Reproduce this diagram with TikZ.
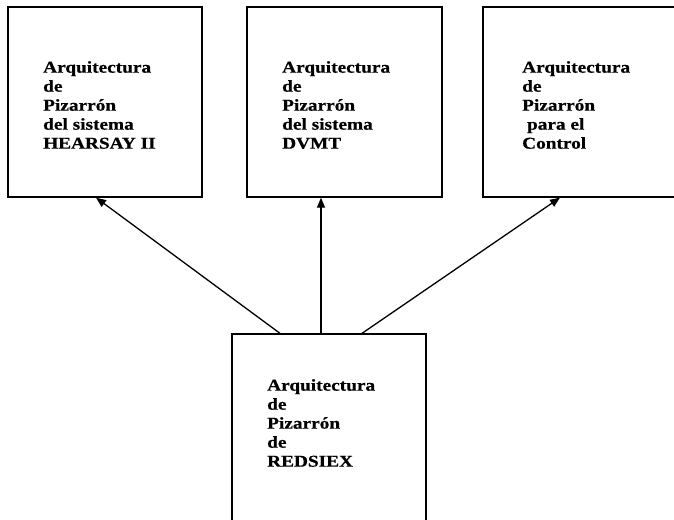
\documentclass[tikz,border=0pt]{standalone}
\usepackage{fontspec}
\newfontfamily\boxfont{Liberation Serif}[FakeStretch=1.17, FakeBold=0.6]
\usetikzlibrary{arrows.meta}
\tikzset{
  frame/.style={draw, line width=1.3pt, rectangle, inner sep=0pt},
  label/.style={anchor=north west, align=left, inner sep=0pt,
    font=\boxfont\bfseries\fontsize{16.5}{19}\selectfont},
  link/.style={line width=1.3pt, -{Triangle[length=10pt,width=8pt]}}
}
\begin{document}
\begin{tikzpicture}[x=1pt, y=-1pt]
  \useasboundingbox (0,0) rectangle (674,519);
  % upper row of boxes
  \node[frame, minimum width=194pt, minimum height=190pt] (b1) at (105,102) {};
  \node[frame, minimum width=195pt, minimum height=190pt] (b2) at (344.5,102) {};
  \node[frame, minimum width=193pt, minimum height=190pt] (b3) at (579.5,102) {};
  % lower box, running past the bottom edge
  \node[frame, minimum width=194pt, minimum height=196pt] (b4) at (329,432) {};
  % texts
  \node[label] (t1) at (43,61) {Arquitectura\\de\\Pizarrón\\del sistema\\HEARSAY II};
  \node[label] (t2) at (282,61) {Arquitectura\\de\\Pizarrón\\del sistema\\DVMT};
  \node[label] (t3) at (522,61) {Arquitectura\\de\\Pizarrón\\\ para el\\Control};
  \node[label] (t4) at (267,379) {Arquitectura\\de\\Pizarrón\\de\\REDSIEX};
  % connectors
  \draw[link] ([xshift=-49pt]b4.north) -- ([xshift=-9pt]b1.south);
  \draw[link] ([xshift=-8pt]b4.north) -- ([xshift=-23.5pt]b2.south);
  \draw[link] ([xshift=33pt]b4.north) -- ([xshift=-19.5pt]b3.south);
\end{tikzpicture}
\end{document}
